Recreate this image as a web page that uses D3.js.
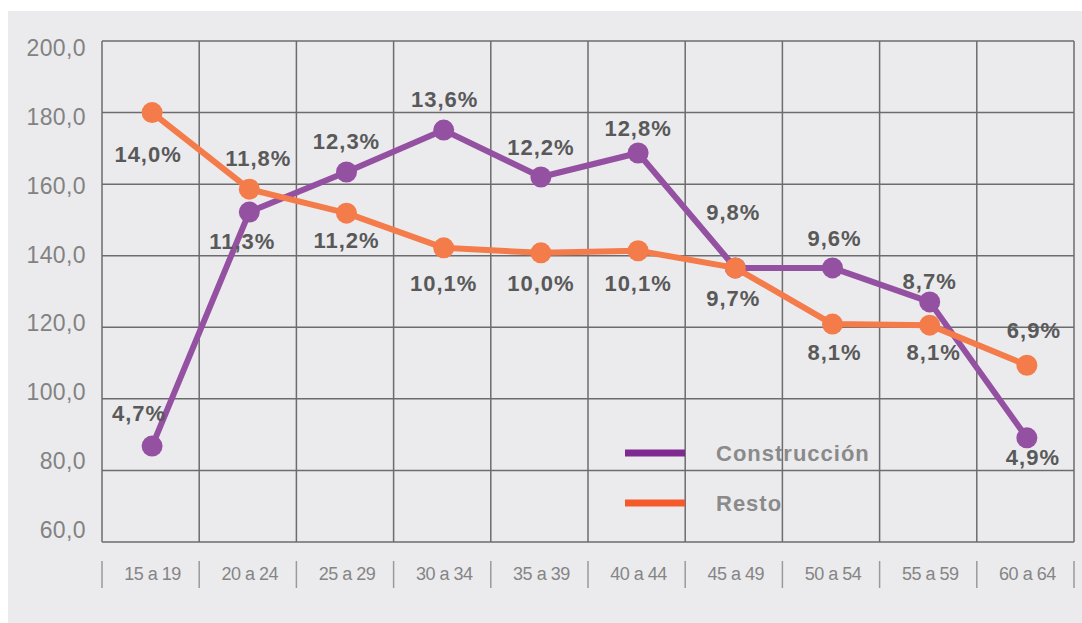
<!DOCTYPE html>
<html>
<head>
<meta charset="utf-8">
<script src="https://cdn.jsdelivr.net/npm/d3@7"></script>
<style>
  body { margin: 0; background: #ffffff; }
  svg { display: block; }
</style>
</head>
<body>
<div id="chart"></div>
<script>
// data
var ageGroups = ["15 a 19", "20 a 24", "25 a 29", "30 a 34", "35 a 39", "40 a 44", "45 a 49", "50 a 54", "55 a 59", "60 a 64"];
var construccion = [86.8, 152.2, 163.4, 175.1, 162.0, 168.7, 136.6, 136.6, 127.1, 89.1];
var resto = [180.0, 158.6, 151.9, 142.2, 140.8, 141.4, 136.6, 120.9, 120.6, 109.4];
var construccionLabels = ["4,7%", "11,3%", "12,3%", "13,6%", "12,2%", "12,8%", "9,8%", "9,6%", "8,7%", "4,9%"];
var restoLabels = ["14,0%", "11,8%", "11,2%", "10,1%", "10,0%", "10,1%", "9,7%", "8,1%", "8,1%", "6,9%"];
var yTicks = [60, 80, 100, 120, 140, 160, 180, 200];
var seriesNames = ["Construcción", "Resto"];

// label offsets from the point (layout only)
var conOffset = [[-13, -33], [-7, 29], [0, -30], [1, -31], [0, -29], [0, -25], [-2, -55], [2, -29], [0, -20], [6, 20]];
var restoOffset = [[-4, 42], [9, -31], [0, 27], [0, 36], [0, 31], [0, 33], [-2, 31], [2, 28], [4, 27], [7, -35]];

var W = 1082, H = 623;
var plot = { left: 102, right: 1074, top: 41, bottom: 542 };

var svg = d3.select("#chart")
  .append("svg")
  .attr("width", W)
  .attr("height", H);

// grey panel
svg.append("rect")
  .attr("x", 8)
  .attr("y", 11)
  .attr("width", W - 8)
  .attr("height", H - 11)
  .attr("fill", "#ebebee");

var xScale = d3.scaleBand()
  .domain(ageGroups)
  .range([plot.left, plot.right]);

var yScale = d3.scaleLinear()
  .domain([60, 200])
  .range([plot.bottom, plot.top]);

// tick labels sit on a slightly tighter spacing than the grid
var yLabelScale = d3.scaleLinear()
  .domain([60, 200])
  .range([530, 48]);

var gridColor = "#6c6c6c";
var font = "'Liberation Sans', Arial, sans-serif";

// horizontal grid
svg.append("g")
  .selectAll("line")
  .data(yTicks)
  .enter()
  .append("line")
  .attr("x1", plot.left)
  .attr("x2", plot.right)
  .attr("y1", function(d) { return yScale(d); })
  .attr("y2", function(d) { return yScale(d); })
  .attr("stroke", gridColor)
  .attr("stroke-width", 1.5);

// vertical grid
var vEdges = ageGroups.map(function(d) { return xScale(d); }).concat([plot.right]);
svg.append("g")
  .selectAll("line")
  .data(vEdges)
  .enter()
  .append("line")
  .attr("x1", function(d) { return d; })
  .attr("x2", function(d) { return d; })
  .attr("y1", plot.top)
  .attr("y2", plot.bottom)
  .attr("stroke", gridColor)
  .attr("stroke-width", 1.5);

// y axis labels
svg.append("g")
  .selectAll("text")
  .data(yTicks)
  .enter()
  .append("text")
  .attr("x", 86)
  .attr("y", function(d) { return yLabelScale(d); })
  .attr("text-anchor", "end")
  .attr("dominant-baseline", "central")
  .style("font-family", font)
  .style("font-size", "23px")
  .style("letter-spacing", "0.4px")
  .style("fill", "#828282")
  .text(function(d) { return d3.format(".1f")(d).replace(".", ","); });

// x axis separators and labels
svg.append("g")
  .selectAll("line")
  .data(vEdges)
  .enter()
  .append("line")
  .attr("x1", function(d) { return d; })
  .attr("x2", function(d) { return d; })
  .attr("y1", 561)
  .attr("y2", 588)
  .attr("stroke", "#9a9a9a")
  .attr("stroke-width", 1.5);

svg.append("g")
  .selectAll("text")
  .data(ageGroups)
  .enter()
  .append("text")
  .attr("x", function(d) { return xScale(d) + xScale.bandwidth() / 2 + 2; })
  .attr("y", 574)
  .attr("text-anchor", "middle")
  .attr("dominant-baseline", "central")
  .style("font-family", font)
  .style("font-size", "18px")
  .style("letter-spacing", "-0.5px")
  .style("fill", "#858585")
  .text(function(d) { return d; });

function cx(i) {
  return xScale(ageGroups[i]) + xScale.bandwidth() / 2 + 1.5;
}

var line = d3.line()
  .x(function(d, i) { return cx(i); })
  .y(function(d) { return yScale(d); });

function drawSeries(values, color) {
  svg.append("path")
    .datum(values)
    .attr("d", line)
    .attr("fill", "none")
    .attr("stroke", color)
    .attr("stroke-width", 6)
    .attr("stroke-linejoin", "round");

  svg.append("g")
    .selectAll("circle")
    .data(values)
    .enter()
    .append("circle")
    .attr("cx", function(d, i) { return cx(i); })
    .attr("cy", function(d) { return yScale(d); })
    .attr("r", 10.5)
    .attr("fill", color);
}

drawSeries(construccion, "#9551a1");
drawSeries(resto, "#f47b4a");

function drawLabels(values, labels, offsets) {
  svg.append("g")
    .selectAll("text")
    .data(values)
    .enter()
    .append("text")
    .attr("x", function(d, i) { return cx(i) + offsets[i][0]; })
    .attr("y", function(d, i) { return yScale(d) + offsets[i][1]; })
    .attr("text-anchor", "middle")
    .attr("dominant-baseline", "central")
    .style("font-family", font)
    .style("font-size", "22px")
    .style("font-weight", "bold")
    .style("letter-spacing", "1px")
    .style("fill", "#595959")
    .text(function(d, i) { return labels[i]; });
}

drawLabels(construccion, construccionLabels, conOffset);
drawLabels(resto, restoLabels, restoOffset);

// legend
var legendColors = ["#7f2a90", "#f55a2b"];
var legend = svg.append("g")
  .selectAll("g")
  .data(seriesNames)
  .enter()
  .append("g")
  .attr("transform", function(d, i) { return "translate(625," + (453 + i * 50) + ")"; });

legend.append("line")
  .attr("x1", 0)
  .attr("x2", 60)
  .attr("stroke", function(d, i) { return legendColors[i]; })
  .attr("stroke-width", 7);

legend.append("text")
  .attr("x", 91)
  .attr("y", 0)
  .attr("dominant-baseline", "central")
  .style("font-family", font)
  .style("font-size", "22px")
  .style("font-weight", "bold")
  .style("letter-spacing", "1px")
  .style("fill", "#8a8a8a")
  .text(function(d) { return d; });
</script>
</body>
</html>
